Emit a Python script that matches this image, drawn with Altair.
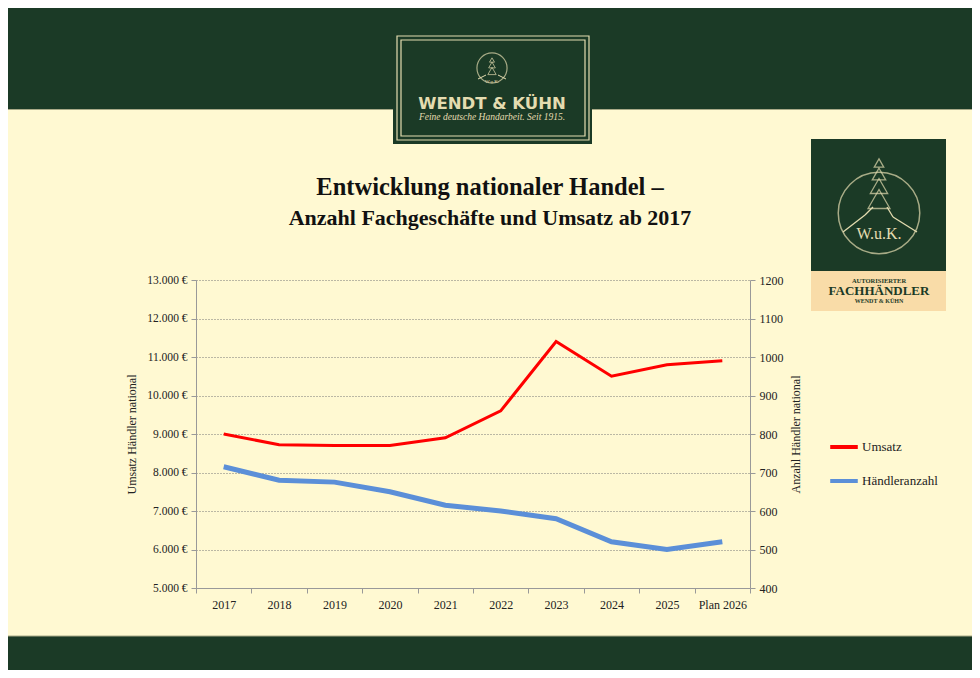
import altair as alt
import pandas as pd

years = ["2017", "2018", "2019", "2020", "2021", "2022", "2023", "2024", "2025", "Plan 2026"]
umsatz = [9000, 8720, 8700, 8700, 8900, 9600, 11400, 10500, 10800, 10900]
haendler = [715, 680, 675, 650, 615, 600, 580, 520, 500, 520]
series_names = ["Umsatz", "Händleranzahl"]
series_colors = ["#ff0000", "#5b8fd8"]
left_ticks = [5000, 6000, 7000, 8000, 9000, 10000, 11000, 12000, 13000]
right_ticks = [400, 500, 600, 700, 800, 900, 1000, 1100, 1200]

df = pd.DataFrame({"year": years, "umsatz": umsatz, "haendler": haendler})
one = pd.DataFrame({"k": [0]})

GREEN = "#1b3a26"
CREAM = "#fff9d2"
LINE_CREAM = "#e4dcb0"
PEACH = "#f9dca8"
FONT = "Liberation Serif"
OX, OY = 196, 280  # page position of plot origin


def rect(x0, y0, x1, y1, **kw):
    return alt.Chart(one).mark_rect(**kw).encode(
        x=alt.value(x0 - OX), x2=alt.value(x1 - OX),
        y=alt.value(y0 - OY), y2=alt.value(y1 - OY))


def seg(x0, y0, x1, y1, **kw):
    return alt.Chart(one).mark_rule(**kw).encode(
        x=alt.value(x0 - OX), x2=alt.value(x1 - OX),
        y=alt.value(y0 - OY), y2=alt.value(y1 - OY))


def txt(s, x, y, size, **kw):
    return alt.Chart(one).mark_text(text=s, fontSize=size, align="center",
                                    baseline="middle", **kw).encode(
        x=alt.value(x - OX), y=alt.value(y - OY))


def sym(x, y, shape, size, **kw):
    return alt.Chart(one).mark_point(shape=shape, size=size, filled=False, **kw).encode(
        x=alt.value(x - OX), y=alt.value(y - OY))


decor = [
    rect(8, 8, 972, 109, color=GREEN),
    seg(8, 109.5, 972, 109.5, color="#a9aa88", strokeWidth=1),
    rect(8, 636, 972, 670, color=GREEN),
    seg(8, 636, 972, 636, color="#a9aa88", strokeWidth=1),
    # top logo
    rect(393, 32, 592, 144, color=GREEN),
    rect(397, 36, 589, 140, fill=GREEN, stroke=LINE_CREAM, strokeWidth=1.2),
    rect(401, 40, 585, 136, fill=GREEN, stroke=LINE_CREAM, strokeWidth=1.2),
    sym(492, 68, "circle", 908, color=LINE_CREAM, strokeWidth=1.2),
    sym(492, 60, "triangle-up", 25, color=LINE_CREAM, strokeWidth=1),
    sym(492, 65, "triangle-up", 45, color=LINE_CREAM, strokeWidth=1),
    sym(492, 71, "triangle-up", 70, color=LINE_CREAM, strokeWidth=1),
    seg(478, 79, 486, 75, color=LINE_CREAM, strokeWidth=1),
    seg(498, 75, 506, 79, color=LINE_CREAM, strokeWidth=1),
    txt("W.u.K.", 492, 81, 5, font=FONT, color=LINE_CREAM),
    txt("WENDT & KÜHN", 492, 104, 16.5, font="DejaVu Sans", fontWeight="bold", color=LINE_CREAM),
    txt("Feine deutsche Handarbeit. Seit 1915.", 492, 117, 9.5, font=FONT, fontStyle="italic", color=LINE_CREAM),
    # right logo
    rect(811, 139, 946, 271, color=GREEN),
    rect(811, 271, 946, 311, color=PEACH),
    sym(879, 213, "circle", 6648, color=LINE_CREAM, strokeWidth=1.5),
    sym(879, 163, "triangle-up", 90, color=LINE_CREAM, strokeWidth=1.3),
    sym(879, 174, "triangle-up", 180, color=LINE_CREAM, strokeWidth=1.3),
    sym(879, 186, "triangle-up", 300, color=LINE_CREAM, strokeWidth=1.3),
    sym(879, 199, "triangle-up", 480, color=LINE_CREAM, strokeWidth=1.3),
    seg(843, 232, 865, 215, color=LINE_CREAM, strokeWidth=1.3),
    seg(865, 215, 873, 207, color=LINE_CREAM, strokeWidth=1.3),
    seg(887, 207, 893, 217, color=LINE_CREAM, strokeWidth=1.3),
    seg(893, 217, 917, 232, color=LINE_CREAM, strokeWidth=1.3),
    txt("W.u.K.", 879, 234, 16, font=FONT, color=LINE_CREAM),
    txt("AUTORISIERTER", 879, 281, 6.5, font=FONT, fontWeight="bold", color=GREEN),
    txt("FACHHÄNDLER", 879, 291, 13, font=FONT, fontWeight="bold", color=GREEN),
    txt("WENDT & KÜHN", 879, 301, 6, font=FONT, fontWeight="bold", color=GREEN),
    # titles
    txt("Entwicklung nationaler Handel –", 490, 188, 24.5, font=FONT, fontWeight="bold", color="#111111"),
    txt("Anzahl Fachgeschäfte und Umsatz ab 2017", 490, 218, 22, font=FONT, fontWeight="bold", color="#111111"),
]

x_enc = alt.X("year:N", sort=years,
              scale=alt.Scale(paddingInner=0, paddingOuter=0),
              axis=alt.Axis(title=None, labelAngle=0, tickBand="extent", domainColor="#999999",
                            tickColor="#999999", tickSize=5, labelPadding=6, grid=False,
                            labelFont=FONT, labelFontSize=12, labelColor="#222222"))

color_scale = alt.Scale(domain=series_names, range=series_colors)
legend = alt.Legend(title=None, orient="none", legendX=632, legendY=151,
                    symbolType="stroke", symbolSize=760, symbolStrokeWidth=4,
                    labelFont=FONT, labelFontSize=13, labelColor="#222222",
                    rowPadding=10, labelOffset=2)

line1 = alt.Chart(df).transform_calculate(series="'Umsatz'").mark_line(strokeWidth=3).encode(
    x=x_enc,
    y=alt.Y("umsatz:Q", scale=alt.Scale(domain=[5000, 13000], nice=False, zero=False),
            axis=alt.Axis(orient="left", values=left_ticks,
                          labelExpr="replace(format(datum.value, ',.0f'), ',', '.') + ' €'",
                          title="Umsatz Händler national", grid=True, gridDash=[1, 2],
                          gridColor="#777777", gridWidth=1, domainColor="#999999",
                          tickColor="#999999", tickSize=5, labelPadding=4,
                          labelFont=FONT, labelFontSize=11.5, labelColor="#222222",
                          titleFont=FONT, titleFontSize=12, titleFontWeight="normal",
                          titleColor="#222222", titlePadding=8)),
    color=alt.Color("series:N", scale=color_scale, legend=legend),
)

line2 = alt.Chart(df).transform_calculate(series="'Händleranzahl'").mark_line(strokeWidth=5).encode(
    x=x_enc,
    y=alt.Y("haendler:Q", scale=alt.Scale(domain=[400, 1200], nice=False, zero=False),
            axis=alt.Axis(orient="right", values=right_ticks, format="d",
                          title="Anzahl Händler national",
                          grid=False, domainColor="#999999", tickColor="#999999", tickSize=5,
                          labelPadding=4, labelFont=FONT, labelFontSize=12,
                          labelColor="#222222", titleFont=FONT, titleFontSize=12,
                          titleFontWeight="normal", titleColor="#222222", titleAngle=270,
                          titlePadding=19)),
    color=alt.Color("series:N", scale=color_scale, legend=legend),
)

chart = alt.layer(*decor, line1, line2).resolve_scale(y="independent").properties(
    width=554, height=308,
    autosize=alt.AutoSizeParams(type="none"),
    padding={"left": 188, "top": 272, "right": 222, "bottom": 82},
    background=CREAM,
).configure_view(stroke=None)

chart.save("out.html", embed_options={"renderer": "svg", "actions": False})
